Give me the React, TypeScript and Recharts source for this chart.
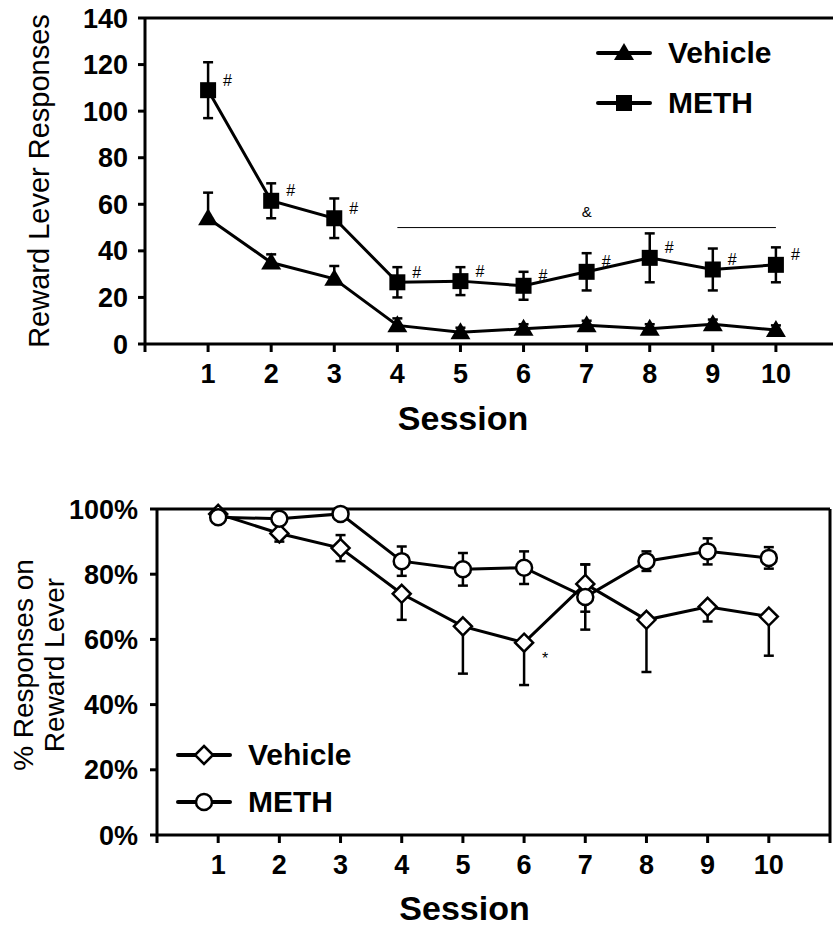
import React from "react";
import {
  LineChart,
  Line,
  XAxis,
  YAxis,
  ErrorBar,
  ReferenceLine,
  LabelList,
  Legend,
} from "recharts";

const sessions = [1, 2, 3, 4, 5, 6, 7, 8, 9, 10];
const sessionTicks = [0, 1, 2, 3, 4, 5, 6, 7, 8, 9, 10, 11];
const groupNames = ["Vehicle", "METH"];

// top panel: reward lever responses
const rewardTicks = [0, 20, 40, 60, 80, 100, 120, 140];
const rewardVehicle = [54, 35, 28, 8, 5, 6.5, 8, 6.5, 8.5, 6];
const rewardVehicleErr = [11, 3.5, 5.5, 3, 2, 2, 2, 2, 2, 2];
const rewardMeth = [109, 61.5, 54, 26.5, 27, 25, 31, 37, 32, 34];
const rewardMethErr = [12, 7.5, 8.5, 6.5, 6, 6, 8, 10.5, 9, 7.5];
const rewardMethMarks = ["#", "#", "#", "#", "#", "#", "#", "#", "#", "#"];
const ampersandFrom = 4;
const ampersandTo = 10;
const ampersandLevel = 50;

// bottom panel: % responses on reward lever
const pctTicks = [0, 20, 40, 60, 80, 100];
const pctVehicle = [98.5, 92.5, 88, 74, 64, 59, 77, 66, 70, 67];
const pctVehicleErrLow = [1, 2.5, 4, 8, 14.5, 13, 8.5, 16, 4.5, 12];
const pctVehicleErrHigh = [1, 2.5, 4, 0, 0, 0, 6, 0, 0, 0];
const pctVehicleMarks = ["", "", "", "", "", "*", "", "", "", ""];
const pctMeth = [97.5, 97, 98.5, 84, 81.5, 82, 73, 84, 87, 85];
const pctMethErr = [1, 1, 0.5, 4.5, 5, 5, 10, 3, 4, 3.3];

const FONT = "'Liberation Sans', Arial, sans-serif";

const rewardData = sessions.map((s, i) => ({
  session: s,
  vehicle: rewardVehicle[i],
  vehicleErr: [0, rewardVehicleErr[i]],
  meth: rewardMeth[i],
  methErr: rewardMethErr[i],
  mark: rewardMethMarks[i],
}));

const pctData = sessions.map((s, i) => ({
  session: s,
  vehicle: pctVehicle[i],
  vehicleErr: [pctVehicleErrLow[i], pctVehicleErrHigh[i]],
  mark: pctVehicleMarks[i],
  meth: pctMeth[i],
  methErr: pctMethErr[i],
}));

type Shape = "triangle" | "square" | "diamond" | "circle";

function Marker({ shape, cx, cy }: { shape: Shape; cx: number; cy: number }) {
  if (shape === "triangle")
    return <path d={`M${cx},${cy - 10}L${cx + 10},${cy + 7}L${cx - 10},${cy + 7}Z`} fill="#000" />;
  if (shape === "square") return <rect x={cx - 8} y={cy - 8} width={16} height={16} fill="#000" />;
  if (shape === "diamond")
    return (
      <path
        d={`M${cx},${cy - 9}L${cx + 9},${cy}L${cx},${cy + 9}L${cx - 9},${cy}Z`}
        fill="#fff"
        stroke="#000"
        strokeWidth={2.5}
      />
    );
  return <circle cx={cx} cy={cy} r={8} fill="#fff" stroke="#000" strokeWidth={2.5} />;
}

const dotOf = (shape: Shape) => (p: any) =>
  <Marker key={`${shape}-${p.index}`} shape={shape} cx={p.cx} cy={p.cy} />;

const legendOf = (shapes: Record<string, Shape>, rowH: number) => (props: any) => {
  const items = [...(props.payload || [])].sort(
    (a: any, b: any) => groupNames.indexOf(a.value) - groupNames.indexOf(b.value)
  );
  return (
    <div>
      {items.map((item: any) => (
        <div key={item.value} style={{ display: "flex", alignItems: "center", height: rowH }}>
          <svg width={60} height={30}>
            <line x1={4} x2={56} y1={15} y2={15} stroke="#000" strokeWidth={4} strokeLinecap="round" />
            <Marker shape={shapes[item.value]} cx={30} cy={15} />
          </svg>
          <span style={{ fontFamily: FONT, fontWeight: "bold", fontSize: 30, marginLeft: 14, color: "#000" }}>
            {item.value}
          </span>
        </div>
      ))}
    </div>
  );
};

const tickStyle = { fill: "#000", fontSize: 27, fontWeight: "bold", fontFamily: FONT };
const sessionFmt = (v: number) => (v >= 1 && v <= 10 ? String(v) : "");

const sessionLabel = (dy: number) => ({
  content: ({ viewBox }: any) => (
    <text
      x={viewBox.x + viewBox.width / 2 - 29}
      y={viewBox.y + dy}
      textAnchor="middle"
      dominantBaseline="central"
      fontFamily={FONT}
      fontWeight="bold"
      fontSize={34}
      fill="#000"
    >
      Session
    </text>
  ),
});

const yTitle = (lines: string[], xs: number[], shift: number, size: number) => ({
  content: ({ viewBox }: any) => {
    const cy = viewBox.y + viewBox.height / 2 + shift;
    return (
      <g>
        {lines.map((t, i) => (
          <text
            key={t}
            x={xs[i]}
            y={cy}
            transform={`rotate(-90, ${xs[i]}, ${cy})`}
            textAnchor="middle"
            dominantBaseline="central"
            fontFamily={FONT}
            fontSize={size}
            fill="#000"
          >
            {t}
          </text>
        ))}
      </g>
    );
  },
});

export default function App() {
  return (
    <div
      style={{
        position: "absolute",
        left: 0,
        top: 0,
        width: 833,
        height: 926,
        overflow: "hidden",
        background: "#fff",
      }}
    >
      <div style={{ position: "absolute", left: 0, top: 0 }}>
        <LineChart width={860} height={440} data={rewardData} margin={{ top: 18, right: 21, left: 0, bottom: 0 }}>
          <XAxis
            dataKey="session"
            type="number"
            domain={[0, 11]}
            ticks={sessionTicks}
            tickFormatter={sessionFmt}
            height={96}
            tick={tickStyle}
            tickSize={8}
            tickMargin={12}
            axisLine={{ stroke: "#000", strokeWidth: 3 }}
            tickLine={{ stroke: "#000", strokeWidth: 3 }}
            label={sessionLabel(74)}
          />
          <YAxis
            type="number"
            domain={[0, 140]}
            ticks={rewardTicks}
            width={145}
            tick={tickStyle}
            tickSize={7}
            tickMargin={10}
            axisLine={{ stroke: "#000", strokeWidth: 3 }}
            tickLine={{ stroke: "#000", strokeWidth: 3 }}
            label={yTitle(["Reward Lever Responses"], [39], 0, 29)}
          />
          <ReferenceLine y={140} stroke="#000" strokeWidth={3} />
          <ReferenceLine
            segment={[
              { x: ampersandFrom, y: ampersandLevel },
              { x: ampersandTo, y: ampersandLevel },
            ]}
            stroke="#000"
            strokeWidth={1}
            label={{
              content: ({ viewBox }: any) => (
                <text
                  x={viewBox.x + viewBox.width / 2}
                  y={viewBox.y - 16}
                  textAnchor="middle"
                  dominantBaseline="central"
                  fontFamily={FONT}
                  fontSize={15}
                  fill="#000"
                >
                  &amp;
                </text>
              ),
            }}
          />
          <Legend
            layout="vertical"
            align="center"
            verticalAlign="middle"
            wrapperStyle={{ left: 594, top: 28, width: "auto" }}
            content={legendOf({ Vehicle: "triangle", METH: "square" }, 50)}
          />
          <Line
            name="Vehicle"
            dataKey="vehicle"
            stroke="#000"
            strokeWidth={3}
            dot={dotOf("triangle")}
            activeDot={false}
            isAnimationActive={false}
          >
            <ErrorBar dataKey="vehicleErr" width={5} stroke="#000" strokeWidth={2.5} direction="y" />
          </Line>
          <Line
            name="METH"
            dataKey="meth"
            stroke="#000"
            strokeWidth={3}
            dot={dotOf("square")}
            activeDot={false}
            isAnimationActive={false}
          >
            <ErrorBar dataKey="methErr" width={5} stroke="#000" strokeWidth={2.5} direction="y" />
            <LabelList
              dataKey="mark"
              content={(p: any) => (
                <text x={p.x + 15} y={p.y - 10} dominantBaseline="central" fontFamily={FONT} fontSize={16} fill="#000">
                  {p.value}
                </text>
              )}
            />
          </Line>
        </LineChart>
      </div>

      <div style={{ position: "absolute", left: 0, top: 470 }}>
        <LineChart width={833} height={456} data={pctData} margin={{ top: 39, right: 3, left: 0, bottom: 0 }}>
          <XAxis
            dataKey="session"
            type="number"
            domain={[0, 11]}
            ticks={sessionTicks}
            tickFormatter={sessionFmt}
            height={91}
            tick={tickStyle}
            tickSize={8}
            tickMargin={12}
            axisLine={{ stroke: "#000", strokeWidth: 3 }}
            tickLine={{ stroke: "#000", strokeWidth: 3 }}
            label={sessionLabel(73)}
          />
          <YAxis
            type="number"
            domain={[0, 100]}
            ticks={pctTicks}
            tickFormatter={(v: number) => `${v}%`}
            width={157}
            tick={tickStyle}
            tickSize={7}
            tickMargin={12}
            axisLine={{ stroke: "#000", strokeWidth: 3 }}
            tickLine={{ stroke: "#000", strokeWidth: 3 }}
            label={yTitle(["% Responses on", "Reward Lever"], [23, 54], -7, 28)}
          />
          <ReferenceLine y={100} stroke="#000" strokeWidth={3} />
          <ReferenceLine x={11} stroke="#000" strokeWidth={3} />
          <Legend
            layout="vertical"
            align="center"
            verticalAlign="middle"
            wrapperStyle={{ left: 174, top: 261, width: "auto" }}
            content={legendOf({ Vehicle: "diamond", METH: "circle" }, 47)}
          />
          <Line
            name="Vehicle"
            dataKey="vehicle"
            stroke="#000"
            strokeWidth={3}
            dot={dotOf("diamond")}
            activeDot={false}
            isAnimationActive={false}
          >
            <ErrorBar dataKey="vehicleErr" width={5} stroke="#000" strokeWidth={2.5} direction="y" />
            <LabelList
              dataKey="mark"
              content={(p: any) => (
                <text x={p.x + 18} y={p.y + 16} dominantBaseline="central" fontFamily={FONT} fontSize={16} fill="#000">
                  {p.value}
                </text>
              )}
            />
          </Line>
          <Line
            name="METH"
            dataKey="meth"
            stroke="#000"
            strokeWidth={3}
            dot={dotOf("circle")}
            activeDot={false}
            isAnimationActive={false}
          >
            <ErrorBar dataKey="methErr" width={5} stroke="#000" strokeWidth={2.5} direction="y" />
          </Line>
        </LineChart>
      </div>
    </div>
  );
}
